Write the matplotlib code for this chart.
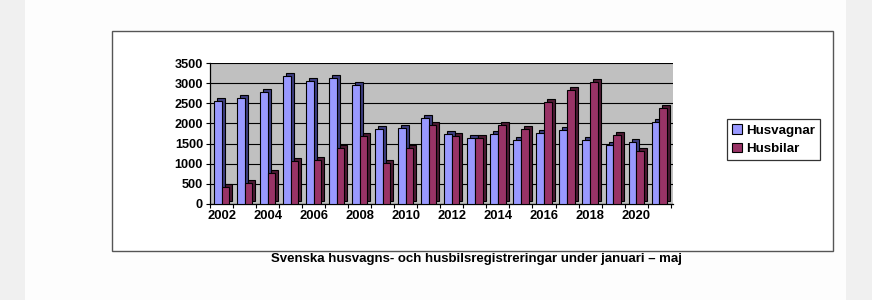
import matplotlib
matplotlib.use("Agg")
import matplotlib.pyplot as plt
import matplotlib.transforms as mtransforms
from matplotlib.patches import Rectangle
import numpy as np

plt.rcParams['font.family'] = ['Liberation Sans', 'DejaVu Sans']

years = list(range(2002, 2022))
husvagnar = [2560, 2640, 2770, 3170, 3050, 3130, 2950, 1850, 1880, 2130,
             1730, 1650, 1750, 1580, 1770, 1830, 1590, 1460, 1550, 2040]
husbilar = [430, 520, 760, 1070, 1080, 1400, 1680, 1010, 1400, 1960,
            1680, 1630, 1970, 1870, 2530, 2830, 3030, 1720, 1320, 2380]
tick_years = list(range(2002, 2022, 2))
yticks = list(range(0, 3501, 500))
labels = ["Husvagnar", "Husbilar"]
caption = "Svenska husvagns- och husbilsregistreringar under januari – maj"

c_blue = "#9999ff"
c_blue_side = "#3d3d80"
c_red = "#993366"
c_red_side = "#4d1a33"

fig = plt.figure(figsize=(8.72, 3.0), dpi=100)
fig.patch.set_facecolor("#fdfdfd")
# page shadow margins
fig.add_artist(Rectangle((0, 0), 25/872, 1, transform=fig.transFigure,
                         facecolor="#f0f0f0", edgecolor="none", zorder=0))
fig.add_artist(Rectangle((846/872, 0), 26/872, 1, transform=fig.transFigure,
                         facecolor="#f0f0f0", edgecolor="none", zorder=0))
# chart frame
fig.add_artist(Rectangle((112/872, (300-251)/300), (833-112)/872, (251-31)/300,
                         transform=fig.transFigure, facecolor="white",
                         edgecolor="#555555", linewidth=1.0, zorder=1))

ax = fig.add_axes([210/872, (300-204)/300, 463/872, 141/300], zorder=2)
ax.set_facecolor("#c0c0c0")
x = np.array(years, dtype=float)
w = 0.33
off = mtransforms.offset_copy(ax.transData, fig=fig, x=3, y=3, units='dots')

# side/top (depth) faces
ax.bar(x - w, husvagnar, width=w, align='edge', color=c_blue_side,
       edgecolor="black", linewidth=0.8, transform=off, zorder=3)
ax.bar(x, husbilar, width=w, align='edge', color=c_red_side,
       edgecolor="black", linewidth=0.8, transform=off, zorder=3)
# front faces
ax.bar(x - w, husvagnar, width=w, align='edge', color=c_blue,
       edgecolor="black", linewidth=0.8, zorder=4, label=labels[0])
ax.bar(x, husbilar, width=w, align='edge', color=c_red,
       edgecolor="black", linewidth=0.8, zorder=4, label=labels[1])

ax.set_xlim(2001.5, 2021.6)
ax.set_ylim(0, 3500)
ax.set_yticks(yticks)
ax.set_yticklabels([str(v) for v in yticks], fontsize=9.2, fontweight='bold')
ax.set_xticks(tick_years)
ax.set_xticklabels([str(v) for v in tick_years], fontsize=9.4, fontweight='bold')
ax.set_xticks(np.arange(2001.5, 2022, 1), minor=True)
ax.tick_params(axis='x', which='major', length=0, pad=4)
ax.tick_params(axis='x', which='minor', length=3, width=0.8, direction='out')
ax.tick_params(axis='y', length=3, width=0.8, pad=2)
ax.yaxis.grid(True, color="black", linewidth=0.8, zorder=1)
ax.set_axisbelow(True)
for s in ['top', 'right']:
    ax.spines[s].set_visible(False)
ax.spines['left'].set_linewidth(0.9)
ax.spines['bottom'].set_linewidth(0.9)

leg = fig.legend(loc='upper left', bbox_to_anchor=(727/872, (300-119)/300),
                 frameon=True, fancybox=False, edgecolor="black",
                 prop={'weight': 'bold', 'size': 9.6}, handlelength=0.7,
                 handleheight=0.7, handletextpad=0.3, borderpad=0.4,
                 labelspacing=0.45, borderaxespad=0)
leg.get_frame().set_linewidth(0.9)
leg.set_zorder(5)

fig.text(476/872, (300-259)/300, caption, ha='center', va='center',
         fontsize=9.5, fontweight='bold', zorder=5)

fig.savefig("out.png", dpi=100, facecolor=fig.get_facecolor())
